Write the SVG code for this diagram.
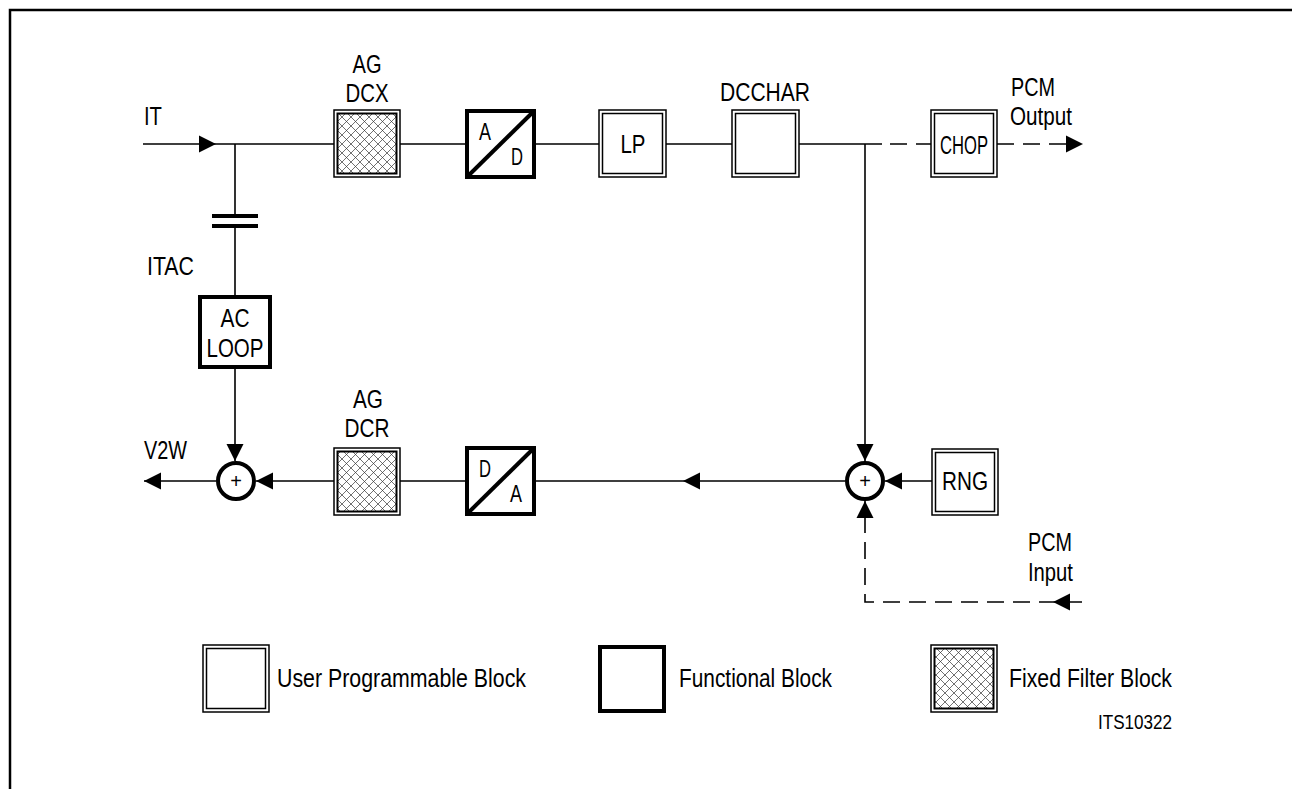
<svg xmlns="http://www.w3.org/2000/svg" xmlns:xlink="http://www.w3.org/1999/xlink" width="1292" height="789" viewBox="0 0 1292 789">
<style>
text{font-family:"Liberation Sans",Arial,sans-serif;fill:#000;font-size:26.5px}
.c{text-anchor:middle}
.sm{font-size:24px}
.lg{font-size:26px}
.ln{fill:none;stroke:#000;stroke-width:1.6}
.ds{fill:none;stroke:#000;stroke-width:1.6;stroke-dasharray:17,9}
.o{fill:#fff;stroke:#000;stroke-width:1.5}
.i{fill:none;stroke:#000;stroke-width:1.5}
.ih{fill:url(#hatch);stroke:#000;stroke-width:2}
.th{fill:#fff;stroke:#000;stroke-width:4}
.sum{fill:#fff;stroke:#000;stroke-width:4}
.cap{stroke:#000;stroke-width:4}
</style>
<defs>
<pattern id="hatch" patternUnits="userSpaceOnUse" width="9" height="9">
<rect width="9" height="9" fill="#fff"/>
<path d="M0,0 L9,9 M9,0 L0,9" stroke="#333" stroke-width="0.7"/>
</pattern>
<path id="ah" d="M0,0 L-17,-8.5 L-17,8.5 Z" fill="#000"/>
</defs>
<path d="M10,789 V10 H1292" fill="none" stroke="#000" stroke-width="2.5"/>

<g id="connectors">
<path class="ln" d="M143,144 H334 M400,144 H467 M534,144 H599 M666,144 H732 M799,144 H882"/>
<path class="ds" d="M890,144 H931"/>
<path class="ds" d="M997,144 H1070"/>
<path class="ln" d="M865,144 V461"/>
<path class="ln" d="M235,144 V216 M235,226 V297 M235,367 V461"/>
<line class="cap" x1="212" y1="216" x2="258" y2="216"/>
<line class="cap" x1="212" y1="226" x2="258" y2="226"/>
<path class="ln" d="M932,481 H885 M845,481 H534 M467,481 H400 M334,481 H256 M216,481 H144"/>
<path class="ds" d="M1082,602 H865 V501"/>
<use xlink:href="#ah" transform="translate(216,144)"/>
<use xlink:href="#ah" transform="translate(1083,144)"/>
<use xlink:href="#ah" transform="translate(865,461) rotate(90)"/>
<use xlink:href="#ah" transform="translate(235,461) rotate(90)"/>
<use xlink:href="#ah" transform="translate(885,481) rotate(180)"/>
<use xlink:href="#ah" transform="translate(683,481) rotate(180)"/>
<use xlink:href="#ah" transform="translate(256,481) rotate(180)"/>
<use xlink:href="#ah" transform="translate(144,481) rotate(180)"/>
<use xlink:href="#ah" transform="translate(865,501) rotate(-90)"/>
<use xlink:href="#ah" transform="translate(1053,602) rotate(180)"/>
</g>

<g id="label-it"><text x="144" y="125" textLength="18" lengthAdjust="spacingAndGlyphs">IT</text></g>
<g id="label-itac"><text x="147" y="275" textLength="47" lengthAdjust="spacingAndGlyphs">ITAC</text></g>
<g id="label-v2w"><text x="144" y="459" textLength="43" lengthAdjust="spacingAndGlyphs">V2W</text></g>
<g id="label-pcm-out">
<text x="1011" y="96" textLength="44" lengthAdjust="spacingAndGlyphs">PCM</text>
<text x="1010" y="125" textLength="62" lengthAdjust="spacingAndGlyphs">Output</text>
</g>
<g id="label-pcm-in">
<text x="1028" y="551" textLength="44" lengthAdjust="spacingAndGlyphs">PCM</text>
<text x="1028" y="581" textLength="45" lengthAdjust="spacingAndGlyphs">Input</text>
</g>

<g id="ag-dcx">
<rect class="o" x="334" y="110" width="66" height="67"/>
<rect class="ih" x="337.5" y="113.5" width="59" height="60"/>
<text class="c" x="367" y="73" textLength="29" lengthAdjust="spacingAndGlyphs">AG</text>
<text class="c" x="367" y="102" textLength="43" lengthAdjust="spacingAndGlyphs">DCX</text>
</g>
<g id="ad">
<rect class="th" x="467" y="111" width="67" height="66"/>
<line x1="469" y1="175" x2="532" y2="113" stroke="#000" stroke-width="4"/>
<text class="sm" x="479" y="140" textLength="12" lengthAdjust="spacingAndGlyphs">A</text>
<text class="sm" x="511" y="165" textLength="12" lengthAdjust="spacingAndGlyphs">D</text>
</g>
<g id="lp">
<rect class="o" x="599" y="110" width="67" height="67"/>
<rect class="i" x="602.5" y="113.5" width="60" height="60"/>
<text class="c" x="633" y="153" textLength="25" lengthAdjust="spacingAndGlyphs">LP</text>
</g>
<g id="dcchar">
<rect class="o" x="732" y="110" width="67" height="67"/>
<rect class="i" x="735.5" y="113.5" width="60" height="60"/>
<text class="c" x="765" y="101" textLength="90" lengthAdjust="spacingAndGlyphs">DCCHAR</text>
</g>
<g id="chop">
<rect class="o" x="931" y="110" width="66" height="67"/>
<rect class="i" x="934.5" y="113.5" width="59" height="60"/>
<text class="c" x="964" y="154" textLength="48" lengthAdjust="spacingAndGlyphs">CHOP</text>
</g>
<g id="ac-loop">
<rect class="th" x="200" y="297" width="70" height="70"/>
<text class="c" x="235" y="327" textLength="29" lengthAdjust="spacingAndGlyphs">AC</text>
<text class="c" x="235" y="357" textLength="57" lengthAdjust="spacingAndGlyphs">LOOP</text>
</g>
<g id="sum-left">
<circle class="sum" cx="236" cy="481" r="18"/>
<text class="c" x="236" y="488" style="font-size:20px">+</text>
</g>
<g id="ag-dcr">
<rect class="o" x="334" y="448" width="66" height="67"/>
<rect class="ih" x="337.5" y="451.5" width="59" height="60"/>
<text class="c" x="368" y="408" textLength="30" lengthAdjust="spacingAndGlyphs">AG</text>
<text class="c" x="367" y="437" textLength="45" lengthAdjust="spacingAndGlyphs">DCR</text>
</g>
<g id="da">
<rect class="th" x="467" y="448" width="67" height="66"/>
<line x1="469" y1="512" x2="532" y2="450" stroke="#000" stroke-width="4"/>
<text class="sm" x="479" y="477" textLength="12" lengthAdjust="spacingAndGlyphs">D</text>
<text class="sm" x="510" y="502" textLength="12" lengthAdjust="spacingAndGlyphs">A</text>
</g>
<g id="sum-right">
<circle class="sum" cx="865" cy="481" r="18"/>
<text class="c" x="865" y="488" style="font-size:20px">+</text>
</g>
<g id="rng">
<rect class="o" x="932" y="449" width="66" height="66"/>
<rect class="i" x="935.5" y="452.5" width="59" height="59"/>
<text class="c" x="965" y="490" textLength="46" lengthAdjust="spacingAndGlyphs">RNG</text>
</g>

<g id="legend-user">
<rect class="o" x="203" y="645" width="66" height="67"/>
<rect class="i" x="206.5" y="648.5" width="59" height="60"/>
<text class="lg" x="277" y="687" textLength="249" lengthAdjust="spacingAndGlyphs">User Programmable Block</text>
</g>
<g id="legend-functional">
<rect class="th" x="600" y="647" width="64" height="64"/>
<text class="lg" x="679" y="687" textLength="153" lengthAdjust="spacingAndGlyphs">Functional Block</text>
</g>
<g id="legend-fixed">
<rect class="o" x="931" y="645" width="66" height="67"/>
<rect class="ih" x="934.5" y="648.5" width="59" height="60"/>
<text class="lg" x="1009" y="687" textLength="163" lengthAdjust="spacingAndGlyphs">Fixed Filter Block</text>
</g>
<g id="label-its"><text x="1098" y="729" style="font-size:20px" textLength="74" lengthAdjust="spacingAndGlyphs">ITS10322</text></g>
</svg>
